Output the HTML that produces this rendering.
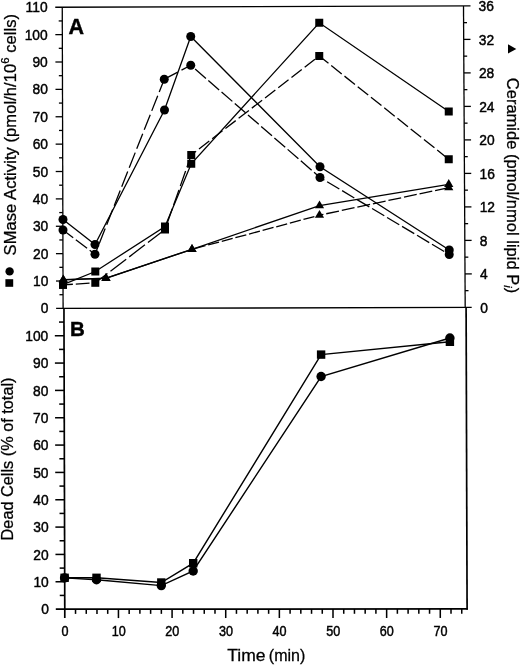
<!DOCTYPE html>
<html><head><meta charset="utf-8"><title>Figure</title>
<style>
html,body{margin:0;padding:0;background:#fff}
svg{display:block}
text{font-family:"Liberation Sans",Arial,Helvetica,sans-serif;fill:#000;stroke:#000;stroke-width:0.42px}
text.t{stroke-width:0.27px}
</style></head>
<body>
<svg width="520" height="666" viewBox="0 0 520 666">
<rect width="520" height="666" fill="#fff"/>
<g stroke="#000" fill="none" stroke-linecap="butt">
<line x1="55.25" y1="7.27" x2="470.50" y2="5.90" stroke-width="1.3" />
<line x1="62.25" y1="7.25" x2="63.10" y2="308.40" stroke-width="1.3" />
<line x1="463.50" y1="5.90" x2="465.20" y2="307.40" stroke-width="1.3" />
<line x1="56.10" y1="308.40" x2="471.70" y2="307.40" stroke-width="1.4300000000000002" />
<line x1="59.46" y1="294.71" x2="63.06" y2="294.71" stroke-width="1.3" />
<line x1="56.02" y1="281.02" x2="63.02" y2="281.02" stroke-width="1.3" />
<line x1="59.38" y1="267.33" x2="62.98" y2="267.33" stroke-width="1.3" />
<line x1="55.95" y1="253.65" x2="62.95" y2="253.65" stroke-width="1.3" />
<line x1="59.31" y1="239.96" x2="62.91" y2="239.96" stroke-width="1.3" />
<line x1="55.87" y1="226.27" x2="62.87" y2="226.27" stroke-width="1.3" />
<line x1="59.23" y1="212.58" x2="62.83" y2="212.58" stroke-width="1.3" />
<line x1="55.79" y1="198.89" x2="62.79" y2="198.89" stroke-width="1.3" />
<line x1="59.15" y1="185.20" x2="62.75" y2="185.20" stroke-width="1.3" />
<line x1="55.71" y1="171.51" x2="62.71" y2="171.51" stroke-width="1.3" />
<line x1="59.07" y1="157.82" x2="62.67" y2="157.82" stroke-width="1.3" />
<line x1="55.64" y1="144.14" x2="62.64" y2="144.14" stroke-width="1.3" />
<line x1="59.00" y1="130.45" x2="62.60" y2="130.45" stroke-width="1.3" />
<line x1="55.56" y1="116.76" x2="62.56" y2="116.76" stroke-width="1.3" />
<line x1="58.92" y1="103.07" x2="62.52" y2="103.07" stroke-width="1.3" />
<line x1="55.48" y1="89.38" x2="62.48" y2="89.38" stroke-width="1.3" />
<line x1="58.84" y1="75.69" x2="62.44" y2="75.69" stroke-width="1.3" />
<line x1="55.40" y1="62.00" x2="62.40" y2="62.00" stroke-width="1.3" />
<line x1="58.77" y1="48.32" x2="62.37" y2="48.32" stroke-width="1.3" />
<line x1="55.33" y1="34.63" x2="62.33" y2="34.63" stroke-width="1.3" />
<line x1="58.69" y1="20.94" x2="62.29" y2="20.94" stroke-width="1.3" />
<line x1="465.11" y1="290.65" x2="468.51" y2="290.65" stroke-width="1.3" />
<line x1="465.01" y1="273.90" x2="471.81" y2="273.90" stroke-width="1.3" />
<line x1="464.92" y1="257.15" x2="468.32" y2="257.15" stroke-width="1.3" />
<line x1="464.82" y1="240.40" x2="471.62" y2="240.40" stroke-width="1.3" />
<line x1="464.73" y1="223.65" x2="468.13" y2="223.65" stroke-width="1.3" />
<line x1="464.63" y1="206.90" x2="471.43" y2="206.90" stroke-width="1.3" />
<line x1="464.54" y1="190.15" x2="467.94" y2="190.15" stroke-width="1.3" />
<line x1="464.44" y1="173.40" x2="471.24" y2="173.40" stroke-width="1.3" />
<line x1="464.35" y1="156.65" x2="467.75" y2="156.65" stroke-width="1.3" />
<line x1="464.26" y1="139.90" x2="471.06" y2="139.90" stroke-width="1.3" />
<line x1="464.16" y1="123.15" x2="467.56" y2="123.15" stroke-width="1.3" />
<line x1="464.07" y1="106.40" x2="470.87" y2="106.40" stroke-width="1.3" />
<line x1="463.97" y1="89.65" x2="467.37" y2="89.65" stroke-width="1.3" />
<line x1="463.88" y1="72.90" x2="470.68" y2="72.90" stroke-width="1.3" />
<line x1="463.78" y1="56.15" x2="467.18" y2="56.15" stroke-width="1.3" />
<line x1="463.69" y1="39.40" x2="470.49" y2="39.40" stroke-width="1.3" />
<line x1="463.59" y1="22.65" x2="466.99" y2="22.65" stroke-width="1.3" />
<line x1="63.95" y1="308.40" x2="64.80" y2="618.10" stroke-width="1.7" />
<line x1="466.10" y1="307.40" x2="467.10" y2="609.65" stroke-width="1.7" />
<line x1="55.80" y1="609.10" x2="467.80" y2="608.95" stroke-width="1.7" />
<line x1="59.76" y1="595.43" x2="64.76" y2="595.43" stroke-width="1.53" />
<line x1="55.52" y1="581.76" x2="64.72" y2="581.76" stroke-width="1.53" />
<line x1="59.68" y1="568.10" x2="64.68" y2="568.10" stroke-width="1.53" />
<line x1="55.45" y1="554.43" x2="64.65" y2="554.43" stroke-width="1.53" />
<line x1="59.61" y1="540.76" x2="64.61" y2="540.76" stroke-width="1.53" />
<line x1="55.37" y1="527.09" x2="64.57" y2="527.09" stroke-width="1.53" />
<line x1="59.53" y1="513.42" x2="64.53" y2="513.42" stroke-width="1.53" />
<line x1="55.29" y1="499.75" x2="64.49" y2="499.75" stroke-width="1.53" />
<line x1="59.45" y1="486.09" x2="64.45" y2="486.09" stroke-width="1.53" />
<line x1="55.21" y1="472.42" x2="64.41" y2="472.42" stroke-width="1.53" />
<line x1="59.38" y1="458.75" x2="64.38" y2="458.75" stroke-width="1.53" />
<line x1="55.14" y1="445.08" x2="64.34" y2="445.08" stroke-width="1.53" />
<line x1="59.30" y1="431.41" x2="64.30" y2="431.41" stroke-width="1.53" />
<line x1="55.06" y1="417.75" x2="64.26" y2="417.75" stroke-width="1.53" />
<line x1="59.22" y1="404.08" x2="64.22" y2="404.08" stroke-width="1.53" />
<line x1="54.98" y1="390.41" x2="64.18" y2="390.41" stroke-width="1.53" />
<line x1="59.14" y1="376.74" x2="64.14" y2="376.74" stroke-width="1.53" />
<line x1="54.90" y1="363.07" x2="64.10" y2="363.07" stroke-width="1.53" />
<line x1="59.07" y1="349.40" x2="64.07" y2="349.40" stroke-width="1.53" />
<line x1="54.83" y1="335.74" x2="64.03" y2="335.74" stroke-width="1.53" />
<line x1="58.99" y1="322.07" x2="63.99" y2="322.07" stroke-width="1.53" />
<line x1="75.53" y1="609.10" x2="75.53" y2="613.90" stroke-width="1.53" />
<line x1="86.26" y1="609.09" x2="86.26" y2="613.89" stroke-width="1.53" />
<line x1="96.98" y1="609.09" x2="96.98" y2="613.89" stroke-width="1.53" />
<line x1="107.71" y1="609.08" x2="107.71" y2="613.88" stroke-width="1.53" />
<line x1="118.44" y1="609.08" x2="118.44" y2="618.08" stroke-width="1.53" />
<line x1="129.17" y1="609.08" x2="129.17" y2="613.88" stroke-width="1.53" />
<line x1="139.90" y1="609.07" x2="139.90" y2="613.87" stroke-width="1.53" />
<line x1="150.62" y1="609.07" x2="150.62" y2="613.87" stroke-width="1.53" />
<line x1="161.35" y1="609.06" x2="161.35" y2="613.86" stroke-width="1.53" />
<line x1="172.08" y1="609.06" x2="172.08" y2="618.06" stroke-width="1.53" />
<line x1="182.81" y1="609.06" x2="182.81" y2="613.86" stroke-width="1.53" />
<line x1="193.54" y1="609.05" x2="193.54" y2="613.85" stroke-width="1.53" />
<line x1="204.26" y1="609.05" x2="204.26" y2="613.85" stroke-width="1.53" />
<line x1="214.99" y1="609.04" x2="214.99" y2="613.84" stroke-width="1.53" />
<line x1="225.72" y1="609.04" x2="225.72" y2="618.04" stroke-width="1.53" />
<line x1="236.45" y1="609.04" x2="236.45" y2="613.84" stroke-width="1.53" />
<line x1="247.18" y1="609.03" x2="247.18" y2="613.83" stroke-width="1.53" />
<line x1="257.90" y1="609.03" x2="257.90" y2="613.83" stroke-width="1.53" />
<line x1="268.63" y1="609.02" x2="268.63" y2="613.82" stroke-width="1.53" />
<line x1="279.36" y1="609.02" x2="279.36" y2="618.02" stroke-width="1.53" />
<line x1="290.09" y1="609.02" x2="290.09" y2="613.82" stroke-width="1.53" />
<line x1="300.82" y1="609.01" x2="300.82" y2="613.81" stroke-width="1.53" />
<line x1="311.54" y1="609.01" x2="311.54" y2="613.81" stroke-width="1.53" />
<line x1="322.27" y1="609.00" x2="322.27" y2="613.80" stroke-width="1.53" />
<line x1="333.00" y1="609.00" x2="333.00" y2="618.00" stroke-width="1.53" />
<line x1="343.73" y1="609.00" x2="343.73" y2="613.80" stroke-width="1.53" />
<line x1="354.46" y1="608.99" x2="354.46" y2="613.79" stroke-width="1.53" />
<line x1="365.18" y1="608.99" x2="365.18" y2="613.79" stroke-width="1.53" />
<line x1="375.91" y1="608.98" x2="375.91" y2="613.78" stroke-width="1.53" />
<line x1="386.64" y1="608.98" x2="386.64" y2="617.98" stroke-width="1.53" />
<line x1="397.37" y1="608.98" x2="397.37" y2="613.78" stroke-width="1.53" />
<line x1="408.10" y1="608.97" x2="408.10" y2="613.77" stroke-width="1.53" />
<line x1="418.82" y1="608.97" x2="418.82" y2="613.77" stroke-width="1.53" />
<line x1="429.55" y1="608.96" x2="429.55" y2="613.76" stroke-width="1.53" />
<line x1="440.28" y1="608.96" x2="440.28" y2="617.96" stroke-width="1.53" />
<line x1="451.01" y1="608.96" x2="451.01" y2="613.76" stroke-width="1.53" />
<line x1="461.74" y1="608.95" x2="461.74" y2="613.75" stroke-width="1.53" />
</g>
<polyline points="63.00,219.50 95.00,244.50 164.50,110.00 190.75,36.50 320.00,166.75 449.25,250.00" fill="none" stroke="#000" stroke-width="1.3"/>
<polyline points="63.00,284.60 95.30,271.50 165.00,226.50 191.25,163.75 319.25,22.75 448.75,111.50" fill="none" stroke="#000" stroke-width="1.3"/>
<polyline points="63.30,279.60 106.00,278.10 192.00,249.30 319.50,205.60 448.75,184.30" fill="none" stroke="#000" stroke-width="1.3"/>
<line x1="63.00" y1="230.00" x2="95.00" y2="254.25" stroke="#000" stroke-width="1.3" stroke-dasharray="14.1 3.3" stroke-dashoffset="1.30"/>
<line x1="95.00" y1="254.25" x2="164.25" y2="79.25" stroke="#000" stroke-width="1.3" stroke-dasharray="16.3 4.1" stroke-dashoffset="-11.40"/>
<line x1="164.25" y1="79.25" x2="190.75" y2="65.25" stroke="#000" stroke-width="1.3" stroke-dasharray="13.0 4.2" stroke-dashoffset="-2.30"/>
<line x1="190.75" y1="65.25" x2="320.00" y2="177.50" stroke="#000" stroke-width="1.3" stroke-dasharray="14.3 3.2" stroke-dashoffset="-5.80"/>
<line x1="320.00" y1="177.50" x2="449.25" y2="254.50" stroke="#000" stroke-width="1.3" stroke-dasharray="14.2 3.24" stroke-dashoffset="-8.30"/>
<line x1="63.00" y1="284.90" x2="95.30" y2="282.80" stroke="#000" stroke-width="1.3" stroke-dasharray="13.8 2.9" stroke-dashoffset="3.90"/>
<line x1="95.30" y1="282.80" x2="165.00" y2="229.50" stroke="#000" stroke-width="1.3" stroke-dasharray="19.8 3.8" stroke-dashoffset="4.50"/>
<line x1="165.00" y1="229.50" x2="191.25" y2="155.00" stroke="#000" stroke-width="1.3" stroke-dasharray="16 4" stroke-dashoffset="-6.00"/>
<line x1="191.25" y1="155.00" x2="319.25" y2="56.00" stroke="#000" stroke-width="1.3" stroke-dasharray="13.0 3.7" stroke-dashoffset="-9.80"/>
<line x1="319.25" y1="56.00" x2="448.75" y2="159.25" stroke="#000" stroke-width="1.3" stroke-dasharray="13.4 3.54" stroke-dashoffset="1.60"/>
<line x1="63.30" y1="279.90" x2="106.00" y2="278.30" stroke="#000" stroke-width="1.3" stroke-dasharray="50 0.01" stroke-dashoffset="0.00"/>
<line x1="106.00" y1="278.30" x2="192.00" y2="249.30" stroke="#000" stroke-width="1.3" stroke-dasharray="100 0.01" stroke-dashoffset="0.00"/>
<line x1="192.00" y1="249.30" x2="319.50" y2="215.20" stroke="#000" stroke-width="1.3" stroke-dasharray="11.3 2.8" stroke-dashoffset="-2.60"/>
<line x1="319.50" y1="215.20" x2="448.75" y2="187.60" stroke="#000" stroke-width="1.3" stroke-dasharray="13.0 2.9" stroke-dashoffset="-6.90"/>
<g fill="#000">
<circle cx="63.00" cy="219.50" r="4.5"/>
<circle cx="95.00" cy="244.50" r="4.5"/>
<circle cx="164.50" cy="110.00" r="4.5"/>
<circle cx="190.75" cy="36.50" r="4.5"/>
<circle cx="320.00" cy="166.75" r="4.5"/>
<circle cx="449.25" cy="250.00" r="4.5"/>
<circle cx="63.00" cy="230.00" r="4.5"/>
<circle cx="95.00" cy="254.25" r="4.5"/>
<circle cx="164.25" cy="79.25" r="4.5"/>
<circle cx="190.75" cy="65.25" r="4.5"/>
<circle cx="320.00" cy="177.50" r="4.5"/>
<circle cx="449.25" cy="254.50" r="4.5"/>
<rect x="59.00" y="280.60" width="8" height="8"/>
<rect x="91.30" y="267.50" width="8" height="8"/>
<rect x="161.00" y="222.50" width="8" height="8"/>
<rect x="187.25" y="159.75" width="8" height="8"/>
<rect x="315.25" y="18.75" width="8" height="8"/>
<rect x="444.75" y="107.50" width="8" height="8"/>
<rect x="59.00" y="280.90" width="8" height="8"/>
<rect x="91.30" y="278.80" width="8" height="8"/>
<rect x="161.00" y="225.50" width="8" height="8"/>
<rect x="187.25" y="151.00" width="8" height="8"/>
<rect x="315.25" y="52.00" width="8" height="8"/>
<rect x="444.75" y="155.25" width="8" height="8"/>
<polygon points="63.30,274.40 58.70,282.20 67.90,282.20"/>
<polygon points="106.00,272.90 101.40,280.70 110.60,280.70"/>
<polygon points="192.00,244.10 187.40,251.90 196.60,251.90"/>
<polygon points="319.50,200.40 314.90,208.20 324.10,208.20"/>
<polygon points="448.75,179.10 444.15,186.90 453.35,186.90"/>
<polygon points="63.30,274.70 58.70,282.50 67.90,282.50"/>
<polygon points="106.00,273.10 101.40,280.90 110.60,280.90"/>
<polygon points="192.00,244.10 187.40,251.90 196.60,251.90"/>
<polygon points="319.50,210.00 314.90,217.80 324.10,217.80"/>
<polygon points="448.75,182.40 444.15,190.20 453.35,190.20"/>
</g>
<polyline points="64.60,577.80 96.50,577.80 161.30,582.50 193.20,563.20 321.10,354.60 449.90,341.80" fill="none" stroke="#000" stroke-width="1.42"/>
<polyline points="64.60,577.90 96.50,579.80 161.30,585.60 193.20,571.00 321.10,376.50 449.90,338.00" fill="none" stroke="#000" stroke-width="1.42"/>
<g fill="#000">
<rect x="60.40" y="573.60" width="8.4" height="8.4"/>
<rect x="92.30" y="573.60" width="8.4" height="8.4"/>
<rect x="157.10" y="578.30" width="8.4" height="8.4"/>
<rect x="189.00" y="559.00" width="8.4" height="8.4"/>
<rect x="316.90" y="350.40" width="8.4" height="8.4"/>
<rect x="445.70" y="337.60" width="8.4" height="8.4"/>
<circle cx="64.60" cy="577.90" r="4.7"/>
<circle cx="96.50" cy="579.80" r="4.7"/>
<circle cx="161.30" cy="585.60" r="4.7"/>
<circle cx="193.20" cy="571.00" r="4.7"/>
<circle cx="321.10" cy="376.50" r="4.7"/>
<circle cx="449.90" cy="338.00" r="4.7"/>
<circle cx="9.6" cy="271.4" r="4.2"/>
<rect x="5.4" y="279.2" width="7.8" height="7.6"/>
<polygon points="508,44.3 508,53.5 516.3,48.9"/>
</g>
<text transform="translate(48.50,313.40) scale(1,1.05)" font-size="13.8" text-anchor="end" >0</text>
<text transform="translate(48.42,286.02) scale(1,1.05)" font-size="13.8" text-anchor="end" >10</text>
<text transform="translate(48.34,258.65) scale(1,1.05)" font-size="13.8" text-anchor="end" >20</text>
<text transform="translate(48.26,231.27) scale(1,1.05)" font-size="13.8" text-anchor="end" >30</text>
<text transform="translate(48.18,203.89) scale(1,1.05)" font-size="13.8" text-anchor="end" >40</text>
<text transform="translate(48.09,176.51) scale(1,1.05)" font-size="13.8" text-anchor="end" >50</text>
<text transform="translate(48.01,149.14) scale(1,1.05)" font-size="13.8" text-anchor="end" >60</text>
<text transform="translate(47.93,121.76) scale(1,1.05)" font-size="13.8" text-anchor="end" >70</text>
<text transform="translate(47.85,94.38) scale(1,1.05)" font-size="13.8" text-anchor="end" >80</text>
<text transform="translate(47.77,67.00) scale(1,1.05)" font-size="13.8" text-anchor="end" >90</text>
<text transform="translate(47.68,39.63) scale(1,1.05)" font-size="13.8" text-anchor="end" >100</text>
<text transform="translate(47.60,12.25) scale(1,1.05)" font-size="13.8" text-anchor="end" >110</text>
<text transform="translate(480.21,312.60) scale(1,1.05)" font-size="13.8" text-anchor="start" >0</text>
<text transform="translate(480.03,279.10) scale(1,1.05)" font-size="13.8" text-anchor="start" >4</text>
<text transform="translate(479.85,245.60) scale(1,1.05)" font-size="13.8" text-anchor="start" >8</text>
<text transform="translate(479.67,212.10) scale(1,1.05)" font-size="13.8" text-anchor="start" >12</text>
<text transform="translate(479.49,178.60) scale(1,1.05)" font-size="13.8" text-anchor="start" >16</text>
<text transform="translate(479.31,145.10) scale(1,1.05)" font-size="13.8" text-anchor="start" >20</text>
<text transform="translate(479.14,111.60) scale(1,1.05)" font-size="13.8" text-anchor="start" >24</text>
<text transform="translate(478.96,78.10) scale(1,1.05)" font-size="13.8" text-anchor="start" >28</text>
<text transform="translate(478.78,44.60) scale(1,1.05)" font-size="13.8" text-anchor="start" >32</text>
<text transform="translate(478.60,11.10) scale(1,1.05)" font-size="13.8" text-anchor="start" >36</text>
<text transform="translate(48.80,614.30) scale(1,1.05)" font-size="13.8" text-anchor="end" >0</text>
<text transform="translate(48.75,586.96) scale(1,1.05)" font-size="13.8" text-anchor="end" >10</text>
<text transform="translate(48.69,559.63) scale(1,1.05)" font-size="13.8" text-anchor="end" >20</text>
<text transform="translate(48.64,532.29) scale(1,1.05)" font-size="13.8" text-anchor="end" >30</text>
<text transform="translate(48.58,504.95) scale(1,1.05)" font-size="13.8" text-anchor="end" >40</text>
<text transform="translate(48.53,477.62) scale(1,1.05)" font-size="13.8" text-anchor="end" >50</text>
<text transform="translate(48.47,450.28) scale(1,1.05)" font-size="13.8" text-anchor="end" >60</text>
<text transform="translate(48.42,422.95) scale(1,1.05)" font-size="13.8" text-anchor="end" >70</text>
<text transform="translate(48.36,395.61) scale(1,1.05)" font-size="13.8" text-anchor="end" >80</text>
<text transform="translate(48.31,368.27) scale(1,1.05)" font-size="13.8" text-anchor="end" >90</text>
<text transform="translate(48.26,340.94) scale(1,1.05)" font-size="13.8" text-anchor="end" >100</text>
<text transform="translate(65.00,635.70) scale(1,1.09)" font-size="12.6" text-anchor="middle" >0</text>
<text transform="translate(118.64,635.70) scale(1,1.09)" font-size="12.6" text-anchor="middle" >10</text>
<text transform="translate(172.28,635.70) scale(1,1.09)" font-size="12.6" text-anchor="middle" >20</text>
<text transform="translate(225.92,635.70) scale(1,1.09)" font-size="12.6" text-anchor="middle" >30</text>
<text transform="translate(279.56,635.70) scale(1,1.09)" font-size="12.6" text-anchor="middle" >40</text>
<text transform="translate(333.20,635.70) scale(1,1.09)" font-size="12.6" text-anchor="middle" >50</text>
<text transform="translate(386.84,635.70) scale(1,1.09)" font-size="12.6" text-anchor="middle" >60</text>
<text transform="translate(440.48,635.70) scale(1,1.09)" font-size="12.6" text-anchor="middle" >70</text>
<text transform="translate(68.40,34.00) scale(1,1.0)" font-size="21.5" text-anchor="start" font-weight="bold">A</text>
<text transform="translate(70.00,336.30) scale(1,1.0)" font-size="20.5" text-anchor="start" font-weight="bold">B</text>
<text class="t" transform="translate(16.0,255.4) rotate(-90)" font-size="16.5" textLength="241.5" lengthAdjust="spacing">SMase Activity (pmol/h/10<tspan font-size="11.3" dy="-6.6">6</tspan><tspan dy="6.6"> cells)</tspan></text>
<text class="t" transform="translate(13.2,540.4) rotate(-90)" font-size="16.3" textLength="162.9" lengthAdjust="spacing">Dead Cells (% of total)</text>
<text class="t" transform="translate(507,77.8) rotate(90)" font-size="16.5" textLength="215.4" lengthAdjust="spacing">Ceramide (pmol/nmol lipid P<tspan font-size="11" font-style="italic" dy="3.2">i</tspan><tspan dy="-3.2">)</tspan></text>
<text transform="translate(227.20,661.30) scale(1,1.0)" font-size="16.5" text-anchor="start" class="t" textLength="38.3" lengthAdjust="spacingAndGlyphs">Time</text>
<text transform="translate(268.80,661.30) scale(1,1.0)" font-size="16.5" text-anchor="start" class="t" textLength="36.5" lengthAdjust="spacingAndGlyphs">(min)</text>
</svg>
</body></html>
